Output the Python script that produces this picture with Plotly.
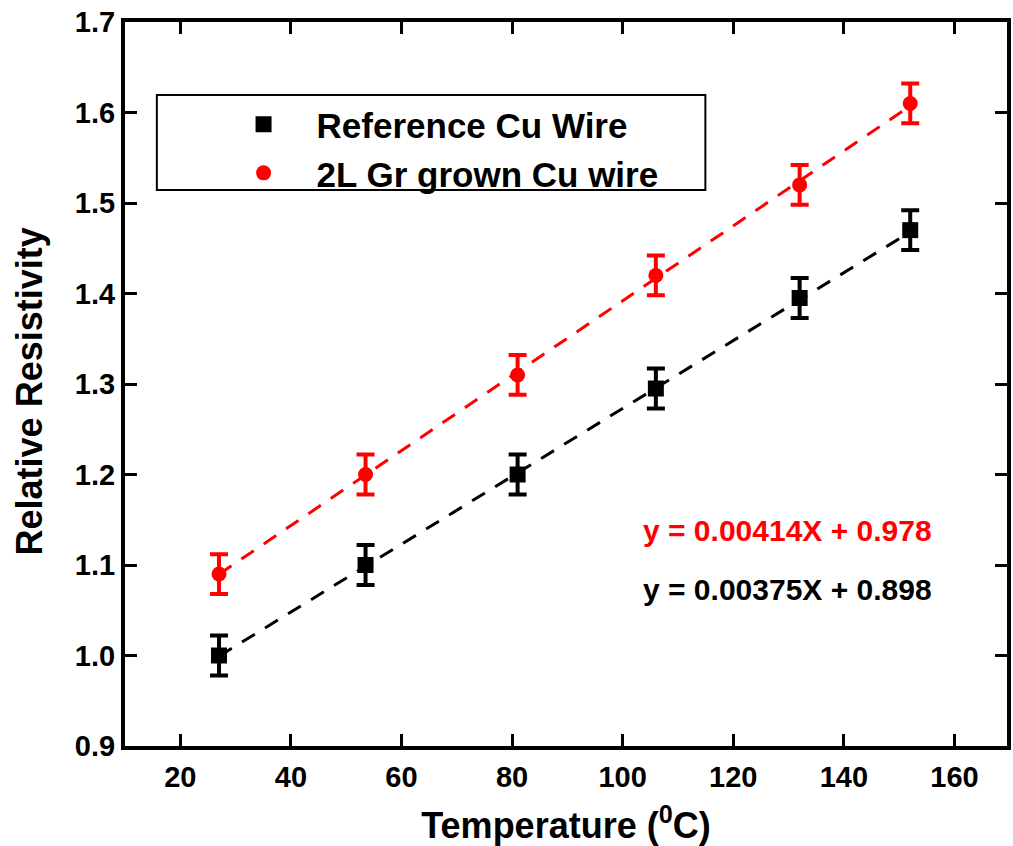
import plotly.graph_objects as go

temp = [27, 53.5, 81, 106, 132, 152]
ref_cu = [1.00, 1.10, 1.20, 1.295, 1.395, 1.47]
gr_cu = [1.09, 1.20, 1.31, 1.42, 1.52, 1.61]
ref_err = [0.022, 0.022, 0.022, 0.022, 0.022, 0.022]
gr_err = [0.022, 0.022, 0.022, 0.022, 0.022, 0.022]
fit_ref = (0.00375, 0.898)
fit_gr = (0.00414, 0.978)
fit_x = [27, 152]
x_ticks = [20, 40, 60, 80, 100, 120, 140, 160]
y_ticks = [0.9, 1.0, 1.1, 1.2, 1.3, 1.4, 1.5, 1.6, 1.7]
y_ticktext = ["0.9", "1.0", "1.1", "1.2", "1.3", "1.4", "1.5", "1.6", "1.7"]

FONT = "Arial, Liberation Sans, sans-serif"

fig = go.Figure()
fig.add_trace(go.Scatter(x=fit_x, y=[fit_ref[0] * v + fit_ref[1] for v in fit_x], mode="lines",
                         line=dict(color="black", width=3, dash="15px,12px"), showlegend=False, hoverinfo="skip"))
fig.add_trace(go.Scatter(x=fit_x, y=[fit_gr[0] * v + fit_gr[1] for v in fit_x], mode="lines",
                         line=dict(color="red", width=3, dash="15px,12px"), showlegend=False, hoverinfo="skip"))
fig.add_trace(go.Scatter(x=temp, y=ref_cu, mode="markers", name="Reference Cu Wire",
                         marker=dict(symbol="square", color="black", size=16),
                         error_y=dict(type="data", array=ref_err, color="black", thickness=4, width=9)))
fig.add_trace(go.Scatter(x=temp, y=gr_cu, mode="markers", name="2L Gr grown Cu wire",
                         marker=dict(symbol="circle", color="red", size=15),
                         error_y=dict(type="data", array=gr_err, color="red", thickness=4, width=9)))

axis_common = dict(showline=True, linecolor="black", linewidth=4, mirror="ticks", ticks="inside",
                   ticklen=12, tickwidth=3, tickcolor="black", showgrid=False, zeroline=False,
                   tickfont=dict(family=FONT, size=29, color="black", weight="bold"))

fig.update_layout(
    width=1013, height=846,
    margin=dict(l=125, r=2, t=22, b=100),
    plot_bgcolor="white", paper_bgcolor="white",
    font=dict(family=FONT, color="black"),
    xaxis=dict(range=[10, 169.5], tickvals=x_ticks, ticklabelstandoff=2,
               title=dict(text="Temperature (<sup>0</sup>C)", font=dict(family=FONT, size=36, weight="bold"), standoff=22),
               **axis_common),
    yaxis=dict(range=[0.9, 1.7], tickvals=y_ticks, ticktext=y_ticktext, **axis_common),
    legend=dict(x=0.097, y=0.899, xanchor="left", yanchor="top", borderwidth=0,
                bgcolor="rgba(0,0,0,0)", font=dict(family=FONT, size=35, weight="bold"), itemwidth=96),
    shapes=[dict(type="rect", xref="paper", yref="paper",
                 x0=(157 - 125) / 886, x1=(708 - 125) / 886,
                 y0=1 - (190 - 22) / 724, y1=1 - (95 - 22) / 724,
                 line=dict(color="black", width=2), fillcolor="white", layer="below")],
)
fig.add_annotation(text="Relative Resistivity", textangle=-90, x=(29 - 125) / 886, y=1 - (391 - 22) / 724,
                   xref="paper", yref="paper", xanchor="center", yanchor="middle", showarrow=False,
                   font=dict(family=FONT, size=36, color="black", weight="bold"))
fig.add_annotation(text="y = 0.00414X + 0.978", x=0.5847, y=0.2983, xref="paper", yref="paper",
                   xanchor="left", yanchor="middle", showarrow=False,
                   font=dict(family=FONT, size=30, color="red", weight="bold"))
fig.add_annotation(text="y = 0.00375X + 0.898", x=0.5847, y=0.2155, xref="paper", yref="paper",
                   xanchor="left", yanchor="middle", showarrow=False,
                   font=dict(family=FONT, size=30, color="black", weight="bold"))

fig.write_html("out.html")
